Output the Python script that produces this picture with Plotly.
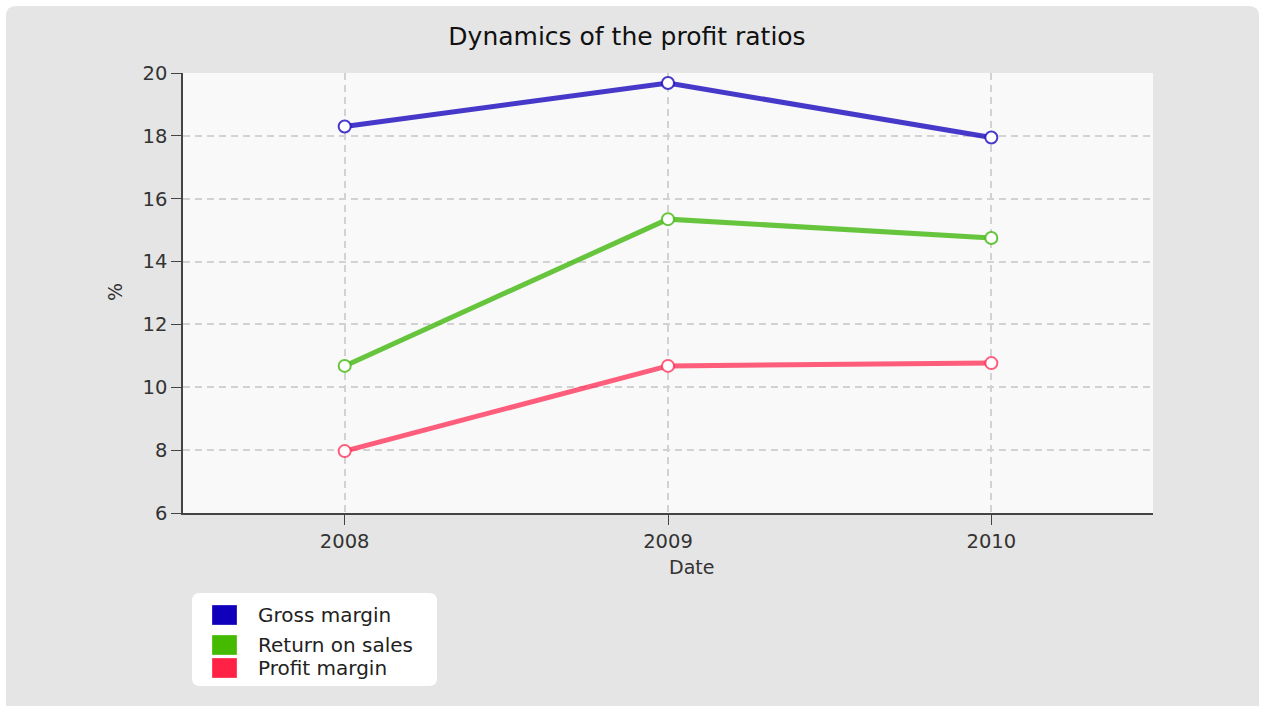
import plotly.graph_objects as go

years = ["2008", "2009", "2010"]
gross_margin = [18.3, 19.68, 17.95]
return_on_sales = [10.68, 15.35, 14.75]
profit_margin = [7.97, 10.68, 10.77]

series_names = ["Gross margin", "Return on sales", "Profit margin"]
line_colors = ["rgba(30,15,190,0.82)", "rgba(70,185,20,0.82)", "rgba(255,40,80,0.75)"]
legend_colors = ["#1100bb", "#44bb00", "#ff2244"]

W, H = 1261, 706
L, R, T, B = 183, 108, 73, 193
pw, ph = W - L - R, H - T - B

def px(x):
    return (x - L) / pw

def py(y):
    return (H - B - y) / ph

fig = go.Figure()
for name, vals, lc in zip(series_names, [gross_margin, return_on_sales, profit_margin], line_colors):
    fig.add_trace(go.Scatter(
        x=years, y=vals, mode="lines+markers", name=name, showlegend=False,
        line=dict(color=lc, width=5),
        marker=dict(size=12, color="white", line=dict(color=lc, width=2)),
    ))

# outer rounded gray panel
x0, x1, y0, y1, r = 6, 1259, 6, 720, 10
path = (f"M {px(x0+r)},{py(y0)} L {px(x1-r)},{py(y0)} Q {px(x1)},{py(y0)} {px(x1)},{py(y0+r)} "
        f"L {px(x1)},{py(y1)} L {px(x0)},{py(y1)} L {px(x0)},{py(y0+r)} Q {px(x0)},{py(y0)} {px(x0+r)},{py(y0)} Z")
fig.add_shape(type="path", path=path, xref="paper", yref="paper", layer="below",
              fillcolor="#e5e5e5", line=dict(width=0))
# plot area background
fig.add_shape(type="rect", x0=0, x1=1, y0=0, y1=1, xref="paper", yref="paper", layer="below",
              fillcolor="#f9f9f9", line=dict(width=0))
# legend box
lx0, lx1, ly0, ly1, lr = 192, 437, 593, 686, 8
lpath = (f"M {px(lx0+lr)},{py(ly0)} L {px(lx1-lr)},{py(ly0)} Q {px(lx1)},{py(ly0)} {px(lx1)},{py(ly0+lr)} "
         f"L {px(lx1)},{py(ly1-lr)} Q {px(lx1)},{py(ly1)} {px(lx1-lr)},{py(ly1)} "
         f"L {px(lx0+lr)},{py(ly1)} Q {px(lx0)},{py(ly1)} {px(lx0)},{py(ly1-lr)} "
         f"L {px(lx0)},{py(ly0+lr)} Q {px(lx0)},{py(ly0)} {px(lx0+lr)},{py(ly0)} Z")
fig.add_shape(type="path", path=lpath, xref="paper", yref="paper", layer="below",
              fillcolor="white", line=dict(width=0))

# legend entries (swatches + labels)
row_tops = [605, 635, 658]
row_text = [615, 645, 668]
for name, c, top, ty in zip(series_names, legend_colors, row_tops, row_text):
    fig.add_shape(type="rect", xref="paper", yref="paper",
                  x0=px(212), x1=px(237), y0=py(top), y1=py(top + 20),
                  fillcolor=c, line=dict(width=0.5, color="rgba(255,255,255,0.6)"))
    fig.add_annotation(text=name, xref="paper", yref="paper", x=px(256), y=py(ty),
                       xanchor="left", yanchor="middle", showarrow=False,
                       font=dict(size=20, color="#222222"))

fig.add_annotation(text="Date", xref="paper", yref="paper", x=px(667), y=py(567),
                   xanchor="left", yanchor="middle", showarrow=False,
                   font=dict(size=19, color="#333333"))
fig.add_annotation(text="%", xref="paper", yref="paper", x=px(115), y=py(292),
                   xanchor="center", yanchor="middle", showarrow=False, textangle=-90,
                   font=dict(size=19, color="#333333"))

fig.update_layout(
    width=W, height=H,
    margin=dict(l=L, r=R, t=T, b=B),
    paper_bgcolor="white",
    plot_bgcolor="#f9f9f9",
    font=dict(family="DejaVu Sans", color="#333333", size=19),
    title=dict(text="Dynamics of the profit ratios", x=627 / W, xanchor="center",
               y=1 - 36 / H, yanchor="middle", font=dict(size=25, color="#111111")),
    xaxis=dict(
        type="category", range=[-0.5, 2.5],
        showline=True, linecolor="#444444", linewidth=1.5,
        ticks="outside", ticklen=10, tickcolor="#444444",
        showgrid=True, gridcolor="#d2d2d2", griddash="7px,5px", gridwidth=1.5,
        zeroline=False, tickfont=dict(size=19.5),
    ),
    yaxis=dict(
        range=[6, 20], dtick=2,
        showline=True, linecolor="#444444", linewidth=1.5,
        ticks="outside", ticklen=10, tickcolor="#444444",
        showgrid=True, gridcolor="#d2d2d2", griddash="7px,5px", gridwidth=1.5,
        zeroline=False, tickfont=dict(size=19.5),
    ),
    showlegend=False,
)

fig.write_html("out.html")
